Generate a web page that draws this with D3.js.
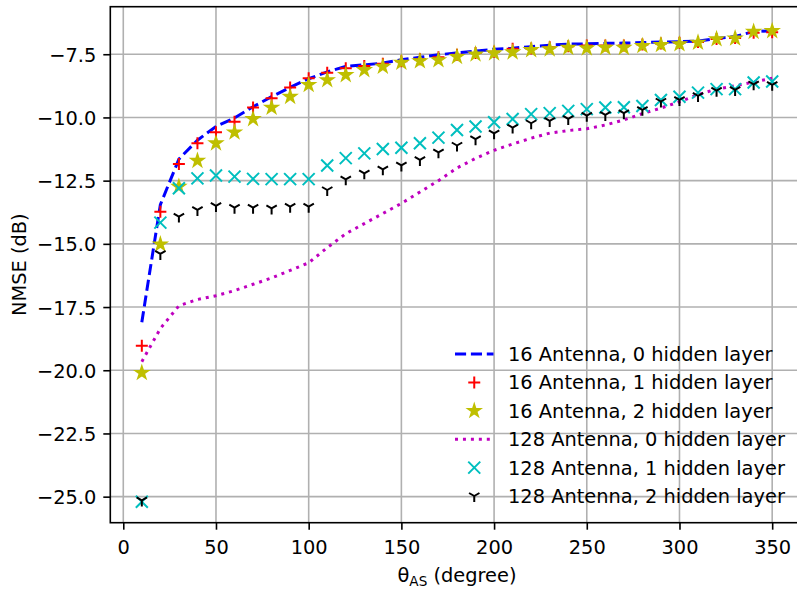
<!DOCTYPE html>
<html>
<head>
<meta charset="utf-8">
<script src="https://cdn.jsdelivr.net/npm/d3@7"></script>
<style>
  body { margin: 0; background: #fff; }
  svg { display: block; }
  text { font-family: "DejaVu Sans", sans-serif; fill: #000; }
</style>
</head>
<body>
<svg id="chart" width="797" height="590"></svg>
<script>
// Angular spread values (degrees)
const angles = [10, 20, 30, 40, 50, 60, 70, 80, 90, 100, 110, 120, 130, 140, 150, 160, 170, 180,
                190, 200, 210, 220, 230, 240, 250, 260, 270, 280, 290, 300, 310, 320, 330, 340, 350];

// NMSE (dB) per configuration
const ant16_h0 = [-18.1, -13.45, -11.65, -10.9, -10.36, -10.02, -9.58, -9.18, -8.81, -8.47, -8.2, -7.98,
                  -7.92, -7.85, -7.72, -7.62, -7.52, -7.45, -7.38, -7.3, -7.26, -7.2, -7.14, -7.1,
                  -7.09, -7.07, -7.06, -7.04, -7.02, -7.0, -6.98, -6.88, -6.8, -6.6, -6.57];
const ant16_h1 = [-19.03, -13.73, -11.84, -11.02, -10.59, -10.17, -9.61, -9.24, -8.82, -8.45, -8.23, -8.05,
                  -7.97, -7.88, -7.78, -7.7, -7.62, -7.52, -7.45, -7.4, -7.28, -7.27, -7.22, -7.18,
                  -7.15, -7.15, -7.15, -7.12, -7.08, -7.05, -7.02, -6.9, -6.86, -6.65, -6.63];
const ant16_h2 = [-20.1, -15.02, -12.74, -11.71, -11.02, -10.59, -10.06, -9.61, -9.18, -8.71, -8.52, -8.32,
                  -8.12, -7.99, -7.83, -7.77, -7.73, -7.6, -7.5, -7.46, -7.42, -7.33, -7.3, -7.24,
                  -7.26, -7.24, -7.24, -7.17, -7.13, -7.1, -7.04, -6.9, -6.87, -6.61, -6.58];
const ant128_h0 = [-19.66, -18.35, -17.45, -17.2, -17.05, -16.85, -16.6, -16.35, -16.05, -15.75, -15.15, -14.6,
                   -14.2, -13.8, -13.4, -12.95, -12.5, -12.0, -11.62, -11.3, -11.05, -10.82, -10.62, -10.52,
                   -10.45, -10.3, -10.1, -9.85, -9.63, -9.38, -9.1, -8.88, -8.75, -8.6, -8.45];
const ant128_h1 = [-25.2, -14.16, -12.8, -12.41, -12.3, -12.34, -12.43, -12.44, -12.44, -12.44, -11.9, -11.61,
                   -11.42, -11.25, -11.2, -11.02, -10.8, -10.5, -10.36, -10.19, -10.06, -9.87, -9.83, -9.74,
                   -9.67, -9.61, -9.6, -9.55, -9.31, -9.18, -9.02, -8.88, -8.88, -8.62, -8.58];
const ant128_h2 = [-25.15, -15.4, -13.92, -13.66, -13.5, -13.57, -13.57, -13.6, -13.53, -13.53, -12.87, -12.45,
                   -12.21, -12.05, -11.9, -11.68, -11.38, -11.11, -10.86, -10.63, -10.4, -10.23, -10.14, -10.06,
                   -9.93, -9.9, -9.83, -9.7, -9.37, -9.31, -9.15, -8.94, -8.91, -8.69, -8.71];

const seriesNames = ["16 Antenna, 0 hidden layer", "16 Antenna, 1 hidden layer", "16 Antenna, 2 hidden layer",
                     "128 Antenna, 0 hidden layer", "128 Antenna, 1 hidden layer", "128 Antenna, 2 hidden layer"];

const xTicks = [0, 50, 100, 150, 200, 250, 300, 350];
const yTicks = [-25, -22.5, -20, -17.5, -15, -12.5, -10, -7.5];

// Series styling
const series = [
  { name: seriesNames[0], values: ant16_h0, kind: "line", color: "#0000ff", dash: "11.1,4.8" },
  { name: seriesNames[1], values: ant16_h1, kind: "marker", color: "#ff0000", marker: "plus" },
  { name: seriesNames[2], values: ant16_h2, kind: "marker", color: "#bfbf00", marker: "star" },
  { name: seriesNames[3], values: ant128_h0, kind: "line", color: "#bf00bf", dash: "3,4.95" },
  { name: seriesNames[4], values: ant128_h1, kind: "marker", color: "#00bfbf", marker: "x" },
  { name: seriesNames[5], values: ant128_h2, kind: "marker", color: "#000000", marker: "tri" }
];

const FONT = 19.4;
const plot = { left: 110.3, right: 803.7, top: 6.7, bottom: 522.7 };

const svg = d3.select("#chart");
const x = d3.scaleLinear().domain([-7, 367]).range([plot.left, plot.right]);
const y = d3.scaleLinear().domain([-26.03, -5.62]).range([plot.bottom, plot.top]);

// Grid
const grid = svg.append("g").attr("stroke", "#b0b0b0").attr("stroke-width", 1.6);
grid.selectAll("line.vx").data(xTicks).join("line")
  .attr("x1", d => x(d)).attr("x2", d => x(d))
  .attr("y1", plot.top).attr("y2", plot.bottom);
grid.selectAll("line.hy").data(yTicks).join("line")
  .attr("x1", plot.left).attr("x2", plot.right)
  .attr("y1", d => y(d)).attr("y2", d => y(d));

// Marker shapes
function starPath(R) {
  const r = R * 0.381966;
  let p = "";
  for (let i = 0; i < 10; i++) {
    const a = -Math.PI / 2 + i * Math.PI / 5;
    const rad = i % 2 === 0 ? R : r;
    p += (i === 0 ? "M" : "L") + (rad * Math.cos(a)).toFixed(3) + "," + (rad * Math.sin(a)).toFixed(3);
  }
  return p + "Z";
}
const markerPaths = {
  plus: "M-6,0H6M0,-6V6",
  x: "M-6,-6L6,6M-6,6L6,-6",
  tri: "M0,0V6M0,0L-5.2,-3M0,0L5.2,-3",
  star: starPath(6)
};
function drawMarker(g, type, color) {
  const p = g.append("path").attr("d", markerPaths[type]).attr("stroke", color).attr("stroke-width", 2);
  if (type === "star") p.attr("fill", color).attr("stroke-linejoin", "miter");
  else p.attr("fill", "none");
  return p;
}

const data = svg.append("g");
const line = d3.line().x((d, i) => x(angles[i])).y(d => y(d));

series.forEach(s => {
  if (s.kind === "line") {
    data.append("path").datum(s.values)
      .attr("d", line)
      .attr("fill", "none")
      .attr("stroke", s.color)
      .attr("stroke-width", 3)
      .attr("stroke-dasharray", s.dash)
      .attr("stroke-linecap", "butt");
  } else {
    s.values.forEach((v, i) => {
      const g = data.append("g").attr("transform", `translate(${x(angles[i])},${y(v)})`);
      drawMarker(g, s.marker, s.color);
    });
  }
});

// Axes
const xAxis = svg.append("g").attr("transform", `translate(0,${plot.bottom})`)
  .call(d3.axisBottom(x).tickValues(xTicks).tickSize(7).tickPadding(7).tickFormat(d3.format("d")));
const yAxis = svg.append("g").attr("transform", `translate(${plot.left},0)`)
  .call(d3.axisLeft(y).tickValues(yTicks).tickSize(7).tickPadding(7).tickFormat(d3.format(".1f")));
[xAxis, yAxis].forEach(a => {
  a.select(".domain").remove();
  a.selectAll(".tick line").attr("stroke", "#000").attr("stroke-width", 1.6);
  a.selectAll(".tick text").attr("font-size", FONT).attr("font-family", "DejaVu Sans").attr("fill", "#000");
});
xAxis.selectAll(".tick text").attr("dy", "0.9em");
yAxis.selectAll(".tick text").attr("dy", "0.36em");

// Spines
svg.append("rect")
  .attr("x", plot.left).attr("y", plot.top)
  .attr("width", plot.right - plot.left).attr("height", plot.bottom - plot.top)
  .attr("fill", "none").attr("stroke", "#000").attr("stroke-width", 1.6);

// Axis labels
const xl = svg.append("text").attr("x", (plot.left + plot.right) / 2).attr("y", 582)
  .attr("text-anchor", "middle").attr("font-size", FONT);
xl.append("tspan").text("θ");
xl.append("tspan").attr("font-size", FONT * 0.7).attr("dy", 4).text("AS");
xl.append("tspan").attr("dy", -4).text(" (degree)");

svg.append("text")
  .attr("transform", `translate(26,${(plot.top + plot.bottom) / 2}) rotate(-90)`)
  .attr("text-anchor", "middle").attr("font-size", FONT)
  .text("NMSE (dB)");

// Legend (no frame)
const legend = svg.append("g");
const rowY0 = 354, rowStep = 28.4, hx0 = 455, hx1 = 493.5, tx = 508;
series.forEach((s, i) => {
  const ry = rowY0 + i * rowStep;
  const row = legend.append("g");
  if (s.kind === "line") {
    row.append("line").attr("x1", hx0).attr("x2", hx1).attr("y1", ry).attr("y2", ry)
      .attr("stroke", s.color).attr("stroke-width", 3).attr("stroke-dasharray", s.dash);
  } else {
    const g = row.append("g").attr("transform", `translate(${(hx0 + hx1) / 2},${ry})`);
    drawMarker(g, s.marker, s.color);
  }
  row.append("text").attr("x", tx).attr("y", ry).attr("dy", "0.36em")
    .attr("font-size", FONT).text(s.name);
});
</script>
</body>
</html>
